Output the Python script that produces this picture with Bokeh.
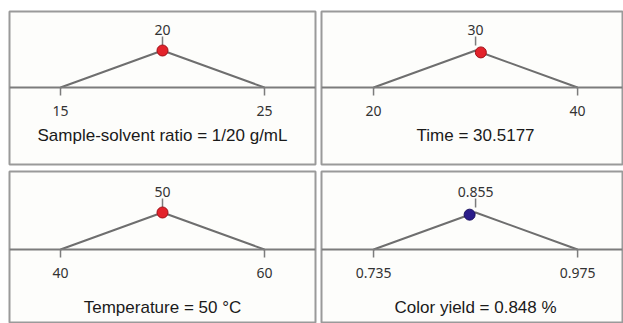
import numpy as np
from bokeh.plotting import figure
from bokeh.layouts import column, row
from bokeh.models import Span, Label, Range1d
from bokeh.embed import file_html
from bokeh.resources import INLINE
from bokeh.core.properties import value

# ---- data ----
lows = [15, 20, 40, 0.735]
targets = [20, 30, 50, 0.855]
highs = [25, 40, 60, 0.975]
low_labels = ["15", "20", "40", "0.735"]
target_labels = ["20", "30", "50", "0.855"]
high_labels = ["25", "40", "60", "0.975"]
current = [20, 30.5177, 50, 0.848]
titles = ["Sample-solvent ratio = 1/20 g/mL", "Time = 30.5177",
          "Temperature = 50 °C", "Color yield = 0.848 %"]
dot_colors = ["#e3232b", "#e3232b", "#e3232b", "#2b1d8a"]
dot_lines = ["#a01018", "#a01018", "#a01018", "#1a1060"]

# ---- layout (style only) ----
PX = 37.0  # pixels per desirability unit
layout = [
    dict(w=318, h=167, b=(9, 3, 11, 3), xp=(0.25, 0.25), yr=(-77 / PX, 76 / PX), ty=29),
    dict(w=305, h=167, b=(3, 1, 11, 3), xp=(0.255, 0.22), yr=(-77 / PX, 76 / PX), ty=29),
    dict(w=318, h=156, b=(9, 3, 4, 1), xp=(0.25, 0.25), yr=(-73 / PX, 78 / PX), ty=15),
    dict(w=305, h=156, b=(3, 1, 4, 1), xp=(0.255, 0.22), yr=(-73 / PX, 78 / PX), ty=15),
]

figs = []
for i in range(4):
    L = layout[i]
    lo, tg, hi = lows[i], targets[i], highs[i]
    span = hi - lo
    p = figure(width=L["w"], height=L["h"], output_backend="svg", toolbar_location=None,
               x_axis_location=None, y_axis_location=None,
               x_range=Range1d(lo - L["xp"][0] * span, hi + L["xp"][1] * span),
               y_range=Range1d(*L["yr"]),
               min_border_left=L["b"][0], min_border_right=L["b"][1],
               min_border_top=L["b"][2], min_border_bottom=L["b"][3])
    p.grid.visible = False
    p.background_fill_color = "#fdfdfb"
    p.border_fill_color = "white"
    p.outline_line_color = "#9a9a9a"
    p.outline_line_width = 2

    p.add_layout(Span(location=0, dimension="width", line_color="#7c7c7c", line_width=2))
    p.line([lo, tg, hi], [0, 1, 0], line_color="#6e6e6e", line_width=2)

    # ticks
    p.segment(x0=[lo, hi], y0=[0, 0], x1=[lo, hi], y1=[-8 / PX, -8 / PX],
              line_color="#7c7c7c", line_width=1.5)
    p.segment(x0=[tg], y0=[1 + 5 / PX], x1=[tg], y1=[1 + 14 / PX],
              line_color="#7c7c7c", line_width=1.5)

    p.text(x=[lo, hi], y=[0, 0], text=[low_labels[i], high_labels[i]],
           text_align="center", text_baseline="middle", y_offset=23,
           text_font=value("Noto Sans"), text_font_size="14px", text_color="#333333")
    p.text(x=[tg], y=[1], text=[target_labels[i]],
           text_align="center", text_baseline="middle", y_offset=-21,
           text_font=value("Noto Sans"), text_font_size="14px", text_color="#333333")

    cy = float(np.interp(current[i], [lo, tg, hi], [0, 1, 0]))
    p.scatter([current[i]], [cy], size=11, fill_color=dot_colors[i],
              line_color=dot_lines[i], line_width=1)

    p.add_layout(Label(x=(lo + hi) / 2, y=L["ty"], y_units="screen", text=titles[i],
                       text_align="center", text_baseline="middle",
                       text_font="Liberation Sans", text_font_size="17px",
                       text_color="#1a1a1a"))
    figs.append(p)

layout_obj = column(row(figs[0], figs[1]), row(figs[2], figs[3]))
open("out.html", "w").write(file_html(layout_obj, INLINE))
